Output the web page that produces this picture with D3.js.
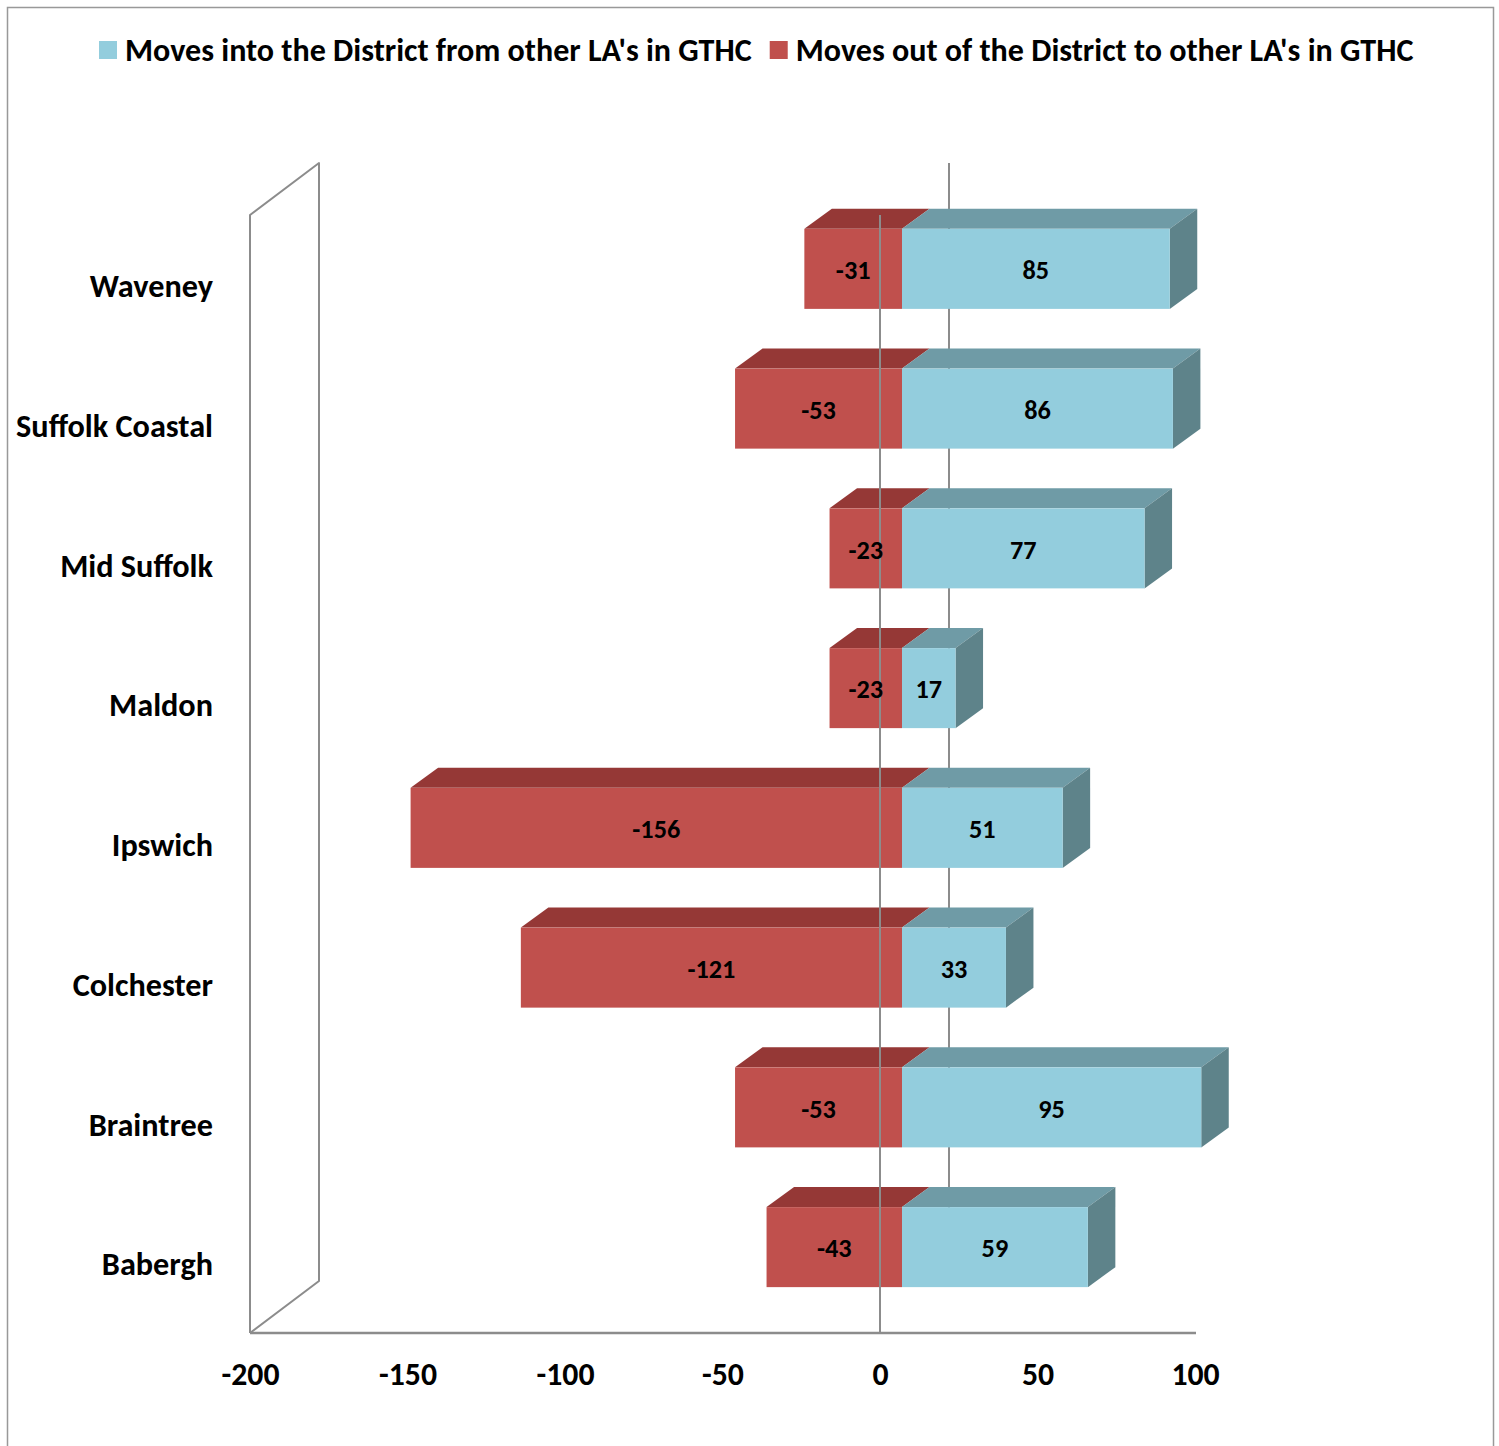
<!DOCTYPE html>
<html>
<head>
<meta charset="utf-8">
<script src="https://cdn.jsdelivr.net/npm/d3@7"></script>
<style>
  html, body { margin: 0; padding: 0; background: #fff; }
  svg { display: block; }
  text { font-family: Carlito, Calibri, Lato, "Open Sans", sans-serif; font-weight: bold; fill: #000; }
</style>
</head>
<body>
<svg id="chart" width="1499" height="1446"></svg>
<script>
// Gypsy & Traveller household moves between local authorities (GTHC)
const categories = ["Waveney", "Suffolk Coastal", "Mid Suffolk", "Maldon", "Ipswich", "Colchester", "Braintree", "Babergh"];
const movesIn = [85, 86, 77, 17, 51, 33, 95, 59];
const movesOut = [-31, -53, -23, -23, -156, -121, -53, -43];
const tickValues = [-200, -150, -100, -50, 0, 50, 100];
const seriesNames = ["Moves into the District from other LA's in GTHC", "Moves out of the District to other LA's in GTHC"];

const svg = d3.select("#chart");
const W = 1499, H = 1446;

// plot frame (front plane) and the oblique depth vector
const plot = { left: 250, right: 1195, top: 215, bottom: 1333 };
const depth = { dx: 69, dy: -52 };       // wall / floor depth
const barShift = { dx: 22, dy: -16 };    // where bar fronts sit inside the depth
const barDepth = { dx: 27.5, dy: -20 };  // thickness of each bar

const colors = {
  outFront: "#C0504D", outTop: "#953836",
  inFront: "#93CDDD", inTop: "#6F9BA6", inSide: "#5E838A",
  axis: "#8c8c8c"
};

const x = d3.scaleLinear().domain([-200, 100]).range([plot.left, plot.right]);
const y = d3.scaleBand().domain(categories).range([plot.top, plot.bottom])
  .paddingInner(0.4275).paddingOuter(0.4275 / 2);

// outer chart border
svg.append("rect")
  .attr("x", 7.5).attr("y", 7.5).attr("width", 1486).attr("height", H + 20)
  .attr("fill", "#fff").attr("stroke", "#999").attr("stroke-width", 1.5);

// legend
const legend = svg.append("g");
const legendY = 50;
function fitFont(sel, target) {
  sel.attr("font-size", 20);
  const w = sel.node().getComputedTextLength();
  const size = 20 * target / w;
  sel.attr("font-size", size);
  return size;
}
const lt1 = legend.append("text").attr("x", 125).attr("y", legendY).attr("dy", "0.35em").text(seriesNames[0]);
const legendSize = fitFont(lt1, 627);
legend.append("rect").attr("x", 99).attr("y", legendY - 9).attr("width", 18).attr("height", 18).attr("fill", colors.inFront);
const sq2 = 125 + lt1.node().getComputedTextLength() + 18;
legend.append("rect").attr("x", sq2).attr("y", legendY - 9).attr("width", 18).attr("height", 18).attr("fill", colors.outFront);
legend.append("text").attr("x", sq2 + 26).attr("y", legendY).attr("dy", "0.35em")
  .attr("font-size", legendSize).text(seriesNames[1]);

// left wall
const wall = svg.append("g");
wall.append("path")
  .attr("d", d3.line()([
    [plot.left, plot.bottom], [plot.left, plot.top],
    [plot.left + depth.dx, plot.top + depth.dy],
    [plot.left + depth.dx, plot.bottom + depth.dy], [plot.left, plot.bottom]
  ]))
  .attr("fill", "#fff").attr("stroke", colors.axis).attr("stroke-width", 2).attr("stroke-linejoin", "round");

// zero gridline on the back wall
svg.append("line")
  .attr("x1", x(0) + depth.dx).attr("x2", x(0) + depth.dx)
  .attr("y1", plot.top + depth.dy).attr("y2", plot.bottom + depth.dy)
  .attr("stroke", colors.axis).attr("stroke-width", 2);

// category (floor) axis front edge
svg.append("line")
  .attr("x1", plot.left).attr("x2", plot.right + 1)
  .attr("y1", plot.bottom).attr("y2", plot.bottom)
  .attr("stroke", colors.axis).attr("stroke-width", 2.5);

// 3D bars
const bars = svg.append("g");
const poly = pts => d3.line()(pts) + "Z";
categories.forEach((c, i) => {
  const y0 = y(c) + barShift.dy, y1 = y0 + y.bandwidth();
  const base = x(0) + barShift.dx;
  const segs = [
    { v: movesOut[i], front: colors.outFront, top: colors.outTop, side: null },
    { v: movesIn[i], front: colors.inFront, top: colors.inTop, side: colors.inSide }
  ];
  segs.forEach(s => {
    const xa = Math.min(base, base + (x(s.v) - x(0)));
    const xb = Math.max(base, base + (x(s.v) - x(0)));
    const g = bars.append("g");
    g.append("path").attr("d", poly([[xa, y0], [xb, y0], [xb + barDepth.dx, y0 + barDepth.dy], [xa + barDepth.dx, y0 + barDepth.dy]]))
      .attr("fill", s.top);
    if (s.side) {
      g.append("path").attr("d", poly([[xb, y0], [xb + barDepth.dx, y0 + barDepth.dy], [xb + barDepth.dx, y1 + barDepth.dy], [xb, y1]]))
        .attr("fill", s.side);
    }
    g.append("rect").attr("x", xa).attr("y", y0).attr("width", xb - xa).attr("height", y1 - y0)
      .attr("fill", s.front);
  });
});

// zero line on the front plane
svg.append("line")
  .attr("x1", x(0)).attr("x2", x(0))
  .attr("y1", plot.top).attr("y2", plot.bottom)
  .attr("stroke", colors.axis).attr("stroke-width", 2);

// value labels
const labels = svg.append("g");
const probe = labels.append("text").text("-156");
const valueSize = fitFont(probe, 48);
probe.remove();
categories.forEach((c, i) => {
  const yc = y(c) + barShift.dy + y.bandwidth() / 2 + 1;
  const base = x(0) + barShift.dx;
  [movesOut[i], movesIn[i]].forEach(v => {
    const xm = base + (x(v) - x(0)) / 2;
    labels.append("text").attr("x", xm).attr("y", yc).attr("dy", "0.35em")
      .attr("text-anchor", "middle").attr("font-size", valueSize).text(v);
  });
});

// category labels
const catAxis = svg.append("g");
const probe2 = catAxis.append("text").text("Suffolk Coastal");
const catSize = fitFont(probe2, 197);
probe2.remove();
catAxis.selectAll("text.cat").data(categories).join("text")
  .attr("class", "cat")
  .attr("x", 213).attr("y", d => y(d) + y.bandwidth() / 2 + 1).attr("dy", "0.35em")
  .attr("text-anchor", "end").attr("font-size", catSize).text(d => d);

// value axis tick labels (plain hyphen for negatives)
const xAxis = d3.axisBottom(x).tickValues(tickValues).tickSize(0).tickPadding(0).tickFormat(d => String(d));
const axisG = svg.append("g").attr("transform", `translate(0,${plot.bottom})`).call(xAxis);
axisG.select(".domain").remove();
const probe3 = svg.append("text").text("-200");
const tickSize = fitFont(probe3, 58);
probe3.remove();
axisG.selectAll("text")
  .attr("y", 41).attr("dy", "0.35em")
  .attr("font-size", tickSize)
  .attr("font-family", null)
  .style("font-family", "Carlito, Calibri, Lato, 'Open Sans', sans-serif")
  .style("font-weight", "bold").attr("fill", "#000");
</script>
</body>
</html>
